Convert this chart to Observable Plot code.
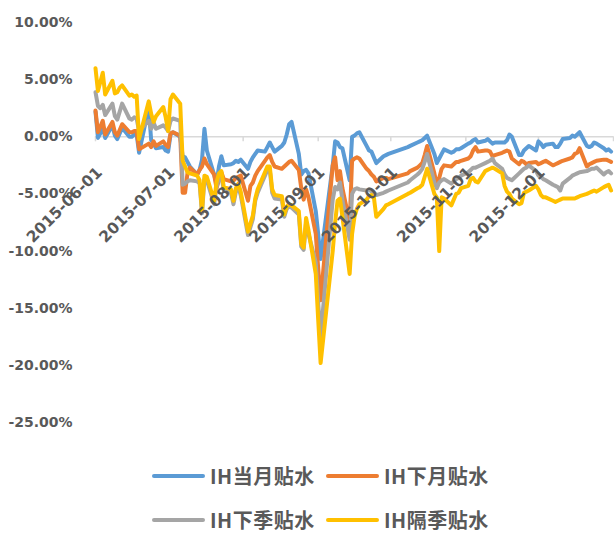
<!DOCTYPE html>
<html>
<head>
<meta charset="utf-8">
<script src="https://cdn.jsdelivr.net/npm/d3@7"></script>
<script src="https://cdn.jsdelivr.net/npm/@observablehq/plot@0.6"></script>
<style>
  body { margin: 0; background: #fff; }
  #wrap { position: relative; width: 614px; height: 534px; }
  #legend { position: absolute; left: 0; top: 440px; width: 614px; height: 94px;
    font-family: "Noto Sans CJK SC", "Noto Sans", sans-serif; font-weight: bold; font-size: 20px; color: #595959; }
  .sw { position: absolute; width: 53px; height: 4px; border-radius: 2px; }
  .lb { position: absolute; line-height: 24px; white-space: nowrap; letter-spacing: 0.5px; }
</style>
</head>
<body>
<div id="wrap"><div id="chart"></div><div id="legend"></div></div>
<script>
// ---- data (percent) ----
const dates = [
  "06-01","06-02","06-03","06-04","06-05","06-08","06-09","06-10","06-11","06-12",
  "06-15","06-16","06-17","06-18","06-19","06-23","06-24","06-25","06-26","06-29","06-30",
  "07-01","07-02","07-03","07-06","07-07","07-08","07-09","07-10","07-13","07-14",
  "07-15","07-16","07-17","07-20","07-21","07-22","07-23","07-24","07-27","07-28",
  "07-29","07-30","07-31",
  "08-03","08-04","08-05","08-06","08-07","08-10","08-11","08-12","08-13","08-14",
  "08-17","08-18","08-19","08-20","08-21","08-24","08-25","08-26","08-27","08-28","08-31",
  "09-01","09-02","09-07","09-08","09-09","09-10","09-11","09-14","09-15","09-16",
  "09-17","09-18","09-21","09-22","09-23","09-24","09-25","09-28","09-29","09-30",
  "10-08","10-09","10-12","10-13","10-14","10-15","10-16","10-19","10-20","10-21",
  "10-22","10-23","10-26","10-27","10-28","10-29","10-30",
  "11-02","11-03","11-04","11-05","11-06","11-09","11-10","11-11","11-12","11-13",
  "11-16","11-17","11-18","11-19","11-20","11-23","11-24","11-25","11-26","11-27","11-30",
  "12-01","12-02","12-03","12-04","12-07","12-08","12-09","12-10","12-11","12-14",
  "12-15","12-16","12-17","12-18","12-21","12-22","12-23","12-24","12-25","12-28",
  "12-29","12-30","12-31"
];
const ihCurrent = [
  2.2,-0.1,0.3,1.0,-0.1,1.0,0.1,-0.2,0.3,0.8,
  0.0,0.0,0.2,0.2,-1.4,2.6,-0.3,-0.6,-1.0,-0.9,-1.2,
  -1.3,0.2,0.4,0.0,-1.7,-1.8,-2.2,-2.6,-3.3,-2.9,
  -2.0,0.7,-1.2,-3.3,-4.1,-2.6,-1.7,-2.5,-2.4,-2.3,
  -2.1,-2.2,-2.0,
  -2.8,-2.2,-1.8,-1.5,-1.2,-1.3,-0.9,-0.5,-0.9,-1.3,
  -0.8,-0.5,0.2,1.1,1.3,-1.5,-3.3,-3.0,-2.9,-3.2,-6.5,
  -8.5,-10.7,-2.5,-0.4,-0.5,-0.9,-1.0,-3.8,0.0,0.1,
  0.3,0.4,-0.8,-1.2,-1.3,-1.8,-2.3,-1.7,-1.6,-1.5,
  -0.9,-0.8,-0.5,-0.4,-0.3,-0.1,0.1,-1.5,-2.3,-1.9,
  -1.5,-1.1,-1.4,-1.3,-1.1,-1.1,-1.0,
  -0.6,-0.5,-0.3,-0.2,-0.5,-0.35,-0.2,-0.4,-0.6,-0.5,
  -0.5,-0.5,-0.3,0.2,0.0,-1.6,-1.6,-1.2,-1.0,-0.8,-1.2,
  -0.4,-0.6,-0.9,-0.7,-0.6,-0.9,-0.9,-0.6,-0.2,-0.1,
  0.1,0.0,0.2,0.4,-0.8,-0.9,-0.8,-0.5,-0.6,-1.0,
  -1.2,-1.1,-1.3
];
const ihNext = [
  2.3,0.4,0.9,1.4,0.2,1.3,0.4,0.1,0.6,1.1,
  0.4,0.4,0.5,0.5,-1.1,-0.6,-0.9,-0.4,-0.8,-0.4,-0.7,
  -0.9,0.3,0.4,0.1,-4.9,-4.9,-3.2,-2.7,-3.3,-2.9,
  -2.6,-1.9,-2.4,-3.3,-4.5,-3.8,-3.1,-3.7,-3.9,-3.85,
  -3.6,-3.5,-3.4,
  -5.6,-4.3,-4.0,-3.4,-3.0,-2.1,-1.8,-1.6,-2.2,-2.6,
  -2.8,-2.6,-2.4,-2.2,-2.1,-2.9,-4.5,-5.5,-4.6,-5.3,-8.5,
  -11.5,-14.3,-2.5,-1.8,-3.8,-3.0,-4.5,-7.5,-2.1,-1.9,
  -1.8,-1.9,-2.8,-3.0,-3.3,-3.5,-3.9,-3.6,-3.6,-3.7,
  -3.2,-3.0,-2.7,-2.5,-2.3,-1.6,-0.8,-3.2,-4.2,-3.6,
  -2.8,-2.5,-2.6,-2.4,-2.2,-2.2,-2.1,
  -1.9,-1.7,-1.2,-0.9,-1.3,-1.2,-1.2,-1.3,-1.7,-1.6,
  -1.4,-1.3,-1.2,-1.3,-1.9,-2.4,-2.1,-2.2,-2.4,-2.3,-2.2,
  -2.4,-2.3,-2.2,-2.1,-2.5,-2.4,-2.3,-2.2,-2.1,-1.9,
  -1.8,-1.5,-1.4,-1.0,-2.6,-2.4,-2.3,-2.2,-2.1,-2.0,
  -2.0,-2.1,-2.2
];
const ihNextQuarter = [
  3.9,2.7,2.5,2.8,1.9,2.9,1.8,1.5,2.2,2.9,
  1.6,1.5,1.7,1.6,0.5,1.4,0.7,1.25,0.7,1.0,0.8,
  0.5,1.4,1.6,1.4,-4.2,-4.1,-3.9,-3.8,-3.9,-4.1,
  -6.7,-3.7,-3.8,-5.9,-4.4,-3.6,-3.4,-4.7,-4.9,-5.9,
  -4.8,-4.4,-5.1,
  -8.6,-7.9,-7.2,-5.6,-4.9,-3.4,-2.9,-2.9,-4.9,-5.4,
  -5.5,-7.0,-6.3,-6.1,-6.2,-6.8,-9.6,-9.9,-7.5,-8.5,-11.0,
  -14.5,-17.5,-5.5,-4.4,-4.6,-4.0,-5.5,-9.0,-5.0,-4.6,
  -4.5,-4.6,-4.7,-4.6,-4.8,-4.9,-5.1,-4.9,-4.8,-4.7,
  -4.0,-3.8,-3.3,-3.1,-2.8,-2.2,-1.5,-4.0,-4.5,-4.0,
  -3.8,-3.7,-4.1,-3.9,-3.7,-3.6,-3.4,
  -3.1,-2.9,-2.7,-2.7,-2.6,-2.3,-2.2,-2.1,-1.9,-2.3,
  -2.8,-3.3,-3.6,-3.7,-3.8,-3.2,-3.0,-2.8,-2.7,-2.5,-3.0,
  -3.4,-3.5,-3.7,-3.8,-4.2,-4.3,-4.4,-4.7,-4.1,-3.6,
  -3.4,-3.3,-3.2,-3.1,-3.0,-2.9,-2.8,-2.8,-2.7,-3.3,
  -3.1,-3.0,-3.2
];
const ihFarQuarter = [
  6.0,4.0,4.8,5.6,3.7,4.9,3.8,3.9,4.3,4.5,
  3.6,3.7,3.5,3.6,-0.2,3.1,2.0,1.3,1.8,2.6,1.7,
  0.5,3.3,3.7,2.9,-2.1,-2.6,-3.1,-3.2,-3.4,-3.8,
  -6.5,-3.4,-3.5,-5.6,-4.0,-3.2,-3.0,-4.4,-4.6,-5.6,
  -4.5,-4.1,-4.8,
  -8.3,-7.6,-6.9,-5.4,-4.6,-3.1,-2.6,-2.6,-4.6,-5.1,
  -5.2,-6.8,-6.1,-5.9,-6.0,-6.5,-9.4,-9.7,-7.1,-8.2,-12.0,
  -16.0,-19.8,-10.0,-7.5,-5.6,-5.4,-7.0,-12.0,-8.5,-7.0,
  -6.3,-5.9,-5.5,-5.2,-5.1,-5.3,-7.0,-6.3,-6.0,-5.9,
  -5.0,-4.9,-4.5,-4.4,-4.2,-3.5,-2.8,-5.0,-5.3,-10.0,
  -5.3,-5.4,-6.0,-5.5,-5.0,-4.9,-4.5,
  -4.3,-3.7,-3.6,-3.9,-4.0,-3.0,-2.9,-2.8,-2.7,-2.8,
  -3.2,-4.3,-4.8,-5.0,-5.4,-5.9,-5.8,-4.9,-4.8,-4.7,-4.3,
  -4.6,-5.1,-5.3,-5.3,-5.6,-5.7,-5.6,-5.5,-5.4,-5.4,
  -5.4,-5.4,-5.3,-5.2,-5.0,-4.9,-4.8,-4.7,-4.8,-4.4,
  -4.3,-4.2,-4.7
];
const seriesNames = ["IH当月贴水", "IH下月贴水", "IH下季贴水", "IH隔季贴水"];
const seriesColors = ["#5B9BD5", "#ED7D31", "#A5A5A5", "#FFC000"];
const yTicks = [10, 5, 0, -5, -10, -15, -20, -25];
const xTickLabels = ["2015-06-01","2015-07-01","2015-08-01","2015-09-01","2015-10-01","2015-11-01","2015-12-01"];
const xTickMarks = ["2015-06-01","2015-07-01","2015-08-01","2015-09-01","2015-10-01","2015-11-01","2015-12-01","2016-01-01"];

// ---- build ----
const parse = s => new Date(s + "T00:00:00Z");
const allSeries = [ihCurrent, ihNext, ihNextQuarter, ihFarQuarter];
const rows = [];
allSeries.forEach((vals, si) => {
  vals.forEach((v, i) => rows.push({date: parse("2015-" + dates[i]), value: v, series: seriesNames[si]}));
});
const labelData = xTickLabels.map(s => ({date: parse(s), label: s}));
const markData = xTickMarks.map(s => ({date: parse(s)}));

const font = "'DejaVu Sans', sans-serif";
const chart = Plot.plot({
  width: 614,
  height: 440,
  marginLeft: 95,
  marginRight: 1,
  marginTop: 22,
  marginBottom: 18,
  style: {fontFamily: font, fontSize: "14px", fontWeight: "bold", color: "#595959", background: "#fff", overflow: "visible"},
  x: {type: "utc", domain: [parse("2015-06-01"), parse("2016-01-01")], axis: null},
  y: {domain: [-25, 10], ticks: yTicks, tickSize: 0, tickPadding: 23, tickFormat: d => d.toFixed(2) + "%", label: null},
  marks: [
    Plot.ruleY([0], {stroke: "#d9d9d9", strokeWidth: 1.5}),
    Plot.ruleX(markData, {x: "date", y1: 0, y2: 0, insetTop: 5, stroke: "#d9d9d9", strokeWidth: 1.5}),
    ...seriesNames.map((name, si) =>
      Plot.line(rows.filter(r => r.series === name), {
        x: "date", y: "value", stroke: seriesColors[si], strokeWidth: 4,
        strokeLinejoin: "round", strokeLinecap: "round"
      })
    ),
    Plot.text(labelData, {x: "date", y: () => 0, text: "label", rotate: -45, textAnchor: "end",
      dx: 4, dy: 33, fill: "#595959", fontSize: 15.5, fontWeight: "bold", fontFamily: font})
  ]
});
document.getElementById("chart").appendChild(chart);

// ---- legend ----
const legend = document.getElementById("legend");
const cols = [152, 326];
const rowCenters = [36, 80];
seriesNames.forEach((name, i) => {
  const left = cols[i % 2], cy = rowCenters[Math.floor(i / 2)];
  const sw = document.createElement("div");
  sw.className = "sw";
  sw.style.left = left + "px"; sw.style.top = (cy - 2) + "px"; sw.style.background = seriesColors[i];
  legend.appendChild(sw);
  const lb = document.createElement("div");
  lb.className = "lb";
  lb.style.left = (left + 58) + "px"; lb.style.top = (cy - 12) + "px";
  lb.textContent = name;
  legend.appendChild(lb);
});
</script>
</body>
</html>
